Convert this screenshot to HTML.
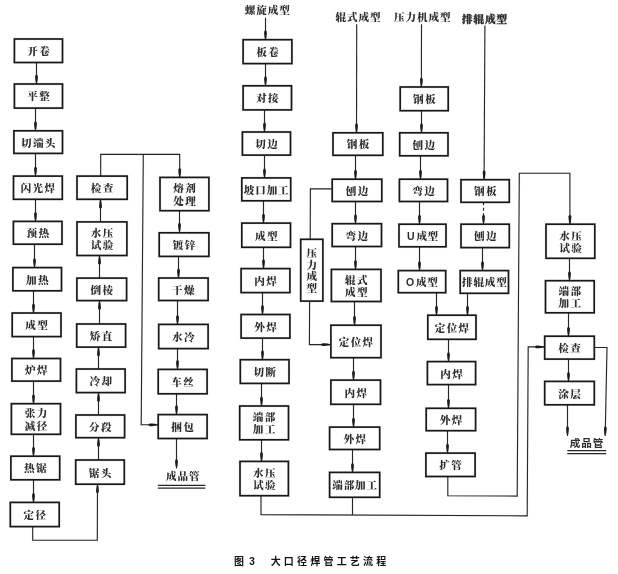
<!DOCTYPE html>
<html lang="zh-CN">
<head>
<meta charset="utf-8">
<title>图3 大口径焊管工艺流程</title>
<style>
html,body{margin:0;padding:0;background:#fff;}
body{width:618px;height:574px;overflow:hidden;font-family:"Liberation Serif","Noto Serif CJK SC",serif;}
svg{display:block;will-change:transform;filter:blur(0.3px);}
.b{fill:none;stroke:#181818;stroke-width:1.65;}
.bf{fill:#fff;stroke:none;}
.l{fill:none;stroke:#262626;stroke-width:1.1;}
.a{fill:#1c1c1c;stroke:none;}
.bh{fill:none;stroke:rgba(0,0,0,0.1);stroke-width:2.7;}
.lh{fill:none;stroke:rgba(0,0,0,0.06);stroke-width:2;}
.t{font-family:"Liberation Serif","Noto Serif CJK SC",serif;font-size:10.6px;font-weight:900;fill:#2e2e2e;letter-spacing:0.3px;text-anchor:middle;}
.u{font-family:"Liberation Sans","Noto Sans CJK SC",sans-serif;}
.c{font-family:"Liberation Sans","Noto Sans CJK SC",sans-serif;font-size:10px;font-weight:700;fill:#111;letter-spacing:3.2px;}
</style>
</head>
<body>
<svg width="618" height="574" viewBox="0 0 618 574">
<rect x="0" y="0" width="618" height="574" fill="#fff"/>
<g>

<g id="lines">
<path class="lh" d="M36.5 62.4 L36.5 84.0"/>
<path class="l" d="M36.5 62.4 L36.5 84.0"/>
<polygon class="a" points="36.10,83.70 35.50,81.00 35.15,78.00 35.15,76.00 35.90,74.80 37.10,74.80 37.85,76.00 37.85,78.00 37.50,81.00 36.90,83.70"/>
<path class="lh" d="M35.5 108.0 L35.5 130.8"/>
<path class="l" d="M35.5 108.0 L35.5 130.8"/>
<polygon class="a" points="35.10,130.50 34.50,127.80 34.15,124.80 34.15,122.80 34.90,121.60 36.10,121.60 36.85,122.80 36.85,124.80 36.50,127.80 35.90,130.50"/>
<path class="lh" d="M35.5 153.3 L35.5 176.1"/>
<path class="l" d="M35.5 153.3 L35.5 176.1"/>
<polygon class="a" points="35.10,175.80 34.50,173.10 34.15,170.10 34.15,168.10 34.90,166.90 36.10,166.90 36.85,168.10 36.85,170.10 36.50,173.10 35.90,175.80"/>
<path class="lh" d="M35.5 199.2 L35.5 221.4"/>
<path class="l" d="M35.5 199.2 L35.5 221.4"/>
<polygon class="a" points="35.10,221.10 34.50,218.40 34.15,215.40 34.15,213.40 34.90,212.20 36.10,212.20 36.85,213.40 36.85,215.40 36.50,218.40 35.90,221.10"/>
<path class="lh" d="M34.5 244.1 L34.5 267.6"/>
<path class="l" d="M34.5 244.1 L34.5 267.6"/>
<polygon class="a" points="34.10,267.30 33.50,264.60 33.15,261.60 33.15,259.60 33.90,258.40 35.10,258.40 35.85,259.60 35.85,261.60 35.50,264.60 34.90,267.30"/>
<path class="lh" d="M33.5 290.7 L33.5 313.0"/>
<path class="l" d="M33.5 290.7 L33.5 313.0"/>
<polygon class="a" points="33.10,312.70 32.50,310.00 32.15,307.00 32.15,305.00 32.90,303.80 34.10,303.80 34.85,305.00 34.85,307.00 34.50,310.00 33.90,312.70"/>
<path class="lh" d="M33.5 336.5 L33.5 358.5"/>
<path class="l" d="M33.5 336.5 L33.5 358.5"/>
<polygon class="a" points="33.10,358.20 32.50,355.50 32.15,352.50 32.15,350.50 32.90,349.30 34.10,349.30 34.85,350.50 34.85,352.50 34.50,355.50 33.90,358.20"/>
<path class="lh" d="M33.5 381.0 L33.5 403.7"/>
<path class="l" d="M33.5 381.0 L33.5 403.7"/>
<polygon class="a" points="33.10,403.40 32.50,400.70 32.15,397.70 32.15,395.70 32.90,394.50 34.10,394.50 34.85,395.70 34.85,397.70 34.50,400.70 33.90,403.40"/>
<path class="lh" d="M33.5 434.2 L33.5 456.2"/>
<path class="l" d="M33.5 434.2 L33.5 456.2"/>
<polygon class="a" points="33.10,455.90 32.50,453.20 32.15,450.20 32.15,448.20 32.90,447.00 34.10,447.00 34.85,448.20 34.85,450.20 34.50,453.20 33.90,455.90"/>
<path class="lh" d="M33.5 479.7 L33.5 502.4"/>
<path class="l" d="M33.5 479.7 L33.5 502.4"/>
<polygon class="a" points="33.10,502.10 32.50,499.40 32.15,496.40 32.15,494.40 32.90,493.20 34.10,493.20 34.85,494.40 34.85,496.40 34.50,499.40 33.90,502.10"/>
<path class="lh" d="M32.7 526.5 L32.7 540.3 L97.3 540.3 L97.5 484.1"/>
<path class="l" d="M32.7 526.5 L32.7 540.3 L97.3 540.3 L97.5 484.1"/>
<polygon class="a" points="97.90,484.40 98.49,487.10 98.83,490.10 98.82,492.10 98.07,493.30 96.87,493.30 96.12,492.10 96.13,490.10 96.49,487.10 97.10,484.40"/>
<path class="lh" d="M98.5 460.0 L98.5 437.6"/>
<path class="l" d="M98.5 460.0 L98.5 437.6"/>
<polygon class="a" points="98.90,437.90 99.50,440.60 99.85,443.60 99.85,445.60 99.10,446.80 97.90,446.80 97.15,445.60 97.15,443.60 97.50,440.60 98.10,437.90"/>
<path class="lh" d="M98.5 415.0 L98.5 392.5"/>
<path class="l" d="M98.5 415.0 L98.5 392.5"/>
<polygon class="a" points="98.90,392.80 99.50,395.50 99.85,398.50 99.85,400.50 99.10,401.70 97.90,401.70 97.15,400.50 97.15,398.50 97.50,395.50 98.10,392.80"/>
<path class="lh" d="M98.5 369.0 L98.5 347.0"/>
<path class="l" d="M98.5 369.0 L98.5 347.0"/>
<polygon class="a" points="98.90,347.30 99.50,350.00 99.85,353.00 99.85,355.00 99.10,356.20 97.90,356.20 97.15,355.00 97.15,353.00 97.50,350.00 98.10,347.30"/>
<path class="lh" d="M99.5 324.0 L99.5 300.5"/>
<path class="l" d="M99.5 324.0 L99.5 300.5"/>
<polygon class="a" points="99.90,300.80 100.50,303.50 100.85,306.50 100.85,308.50 100.10,309.70 98.90,309.70 98.15,308.50 98.15,306.50 98.50,303.50 99.10,300.80"/>
<path class="lh" d="M99.5 278.1 L99.5 255.4"/>
<path class="l" d="M99.5 278.1 L99.5 255.4"/>
<polygon class="a" points="99.90,255.70 100.50,258.40 100.85,261.40 100.85,263.40 100.10,264.60 98.90,264.60 98.15,263.40 98.15,261.40 98.50,258.40 99.10,255.70"/>
<path class="lh" d="M100.5 221.9 L100.5 199.2"/>
<path class="l" d="M100.5 221.9 L100.5 199.2"/>
<polygon class="a" points="100.90,199.50 101.50,202.20 101.85,205.20 101.85,207.20 101.10,208.40 99.90,208.40 99.15,207.20 99.15,205.20 99.50,202.20 100.10,199.50"/>
<path class="lh" d="M100.7 176.1 L100.7 154.4 L179.7 154.4 L179.7 177.4"/>
<path class="l" d="M100.7 176.1 L100.7 154.4 L179.7 154.4 L179.7 177.4"/>
<polygon class="a" points="179.30,177.10 178.70,174.40 178.35,171.40 178.35,169.40 179.10,168.20 180.30,168.20 181.05,169.40 181.05,171.40 180.70,174.40 180.10,177.10"/>
<path class="lh" d="M143.3 154.4 L141.2 424.8 L157.8 424.8"/>
<path class="l" d="M143.3 154.4 L141.2 424.8 L157.8 424.8"/>
<polygon class="a" points="157.50,425.20 154.80,425.80 151.80,426.15 149.80,426.15 148.60,425.40 148.60,424.20 149.80,423.45 151.80,423.45 154.80,423.80 157.50,424.40"/>
<path class="lh" d="M179.5 210.6 L179.5 232.3"/>
<path class="l" d="M179.5 210.6 L179.5 232.3"/>
<polygon class="a" points="179.10,232.00 178.50,229.30 178.15,226.30 178.15,224.30 178.90,223.10 180.10,223.10 180.85,224.30 180.85,226.30 180.50,229.30 179.90,232.00"/>
<path class="lh" d="M178.5 256.3 L178.5 278.0"/>
<path class="l" d="M178.5 256.3 L178.5 278.0"/>
<polygon class="a" points="178.10,277.70 177.50,275.00 177.15,272.00 177.15,270.00 177.90,268.80 179.10,268.80 179.85,270.00 179.85,272.00 179.50,275.00 178.90,277.70"/>
<path class="lh" d="M177.5 300.4 L177.5 324.4"/>
<path class="l" d="M177.5 300.4 L177.5 324.4"/>
<polygon class="a" points="177.10,324.10 176.50,321.40 176.15,318.40 176.15,316.40 176.90,315.20 178.10,315.20 178.85,316.40 178.85,318.40 178.50,321.40 177.90,324.10"/>
<path class="lh" d="M177.5 348.5 L177.5 369.4"/>
<path class="l" d="M177.5 348.5 L177.5 369.4"/>
<polygon class="a" points="177.10,369.10 176.50,366.40 176.15,363.40 176.15,361.40 176.90,360.20 178.10,360.20 178.85,361.40 178.85,363.40 178.50,366.40 177.90,369.10"/>
<path class="lh" d="M176.5 393.7 L176.5 414.6"/>
<path class="l" d="M176.5 393.7 L176.5 414.6"/>
<polygon class="a" points="176.10,414.30 175.50,411.60 175.15,408.60 175.15,406.60 175.90,405.40 177.10,405.40 177.85,406.60 177.85,408.60 177.50,411.60 176.90,414.30"/>
<path class="lh" d="M176.5 438.4 L176.5 468.4"/>
<path class="l" d="M176.5 438.4 L176.5 468.4"/>
<polygon class="a" points="176.10,468.10 175.50,465.40 175.15,462.40 175.15,460.40 175.90,459.20 177.10,459.20 177.85,460.40 177.85,462.40 177.50,465.40 176.90,468.10"/>
<path class="lh" d="M265.5 17.8 L265.5 39.7"/>
<path class="l" d="M265.5 17.8 L265.5 39.7"/>
<polygon class="a" points="265.10,39.40 264.50,36.70 264.15,33.70 264.15,31.70 264.90,30.50 266.10,30.50 266.85,31.70 266.85,33.70 266.50,36.70 265.90,39.40"/>
<path class="lh" d="M265.5 63.5 L265.5 85.8"/>
<path class="l" d="M265.5 63.5 L265.5 85.8"/>
<polygon class="a" points="265.10,85.50 264.50,82.80 264.15,79.80 264.15,77.80 264.90,76.60 266.10,76.60 266.85,77.80 266.85,79.80 266.50,82.80 265.90,85.50"/>
<path class="lh" d="M264.5 109.8 L264.5 132.0"/>
<path class="l" d="M264.5 109.8 L264.5 132.0"/>
<polygon class="a" points="264.10,131.70 263.50,129.00 263.15,126.00 263.15,124.00 263.90,122.80 265.10,122.80 265.85,124.00 265.85,126.00 265.50,129.00 264.90,131.70"/>
<path class="lh" d="M264.5 155.0 L264.5 177.9"/>
<path class="l" d="M264.5 155.0 L264.5 177.9"/>
<polygon class="a" points="264.10,177.60 263.50,174.90 263.15,171.90 263.15,169.90 263.90,168.70 265.10,168.70 265.85,169.90 265.85,171.90 265.50,174.90 264.90,177.60"/>
<path class="lh" d="M263.5 200.7 L263.5 223.1"/>
<path class="l" d="M263.5 200.7 L263.5 223.1"/>
<polygon class="a" points="263.10,222.80 262.50,220.10 262.15,217.10 262.15,215.10 262.90,213.90 264.10,213.90 264.85,215.10 264.85,217.10 264.50,220.10 263.90,222.80"/>
<path class="lh" d="M263.5 247.2 L263.5 268.6"/>
<path class="l" d="M263.5 247.2 L263.5 268.6"/>
<polygon class="a" points="263.10,268.30 262.50,265.60 262.15,262.60 262.15,260.60 262.90,259.40 264.10,259.40 264.85,260.60 264.85,262.60 264.50,265.60 263.90,268.30"/>
<path class="lh" d="M262.5 292.5 L262.5 314.5"/>
<path class="l" d="M262.5 292.5 L262.5 314.5"/>
<polygon class="a" points="262.10,314.20 261.50,311.50 261.15,308.50 261.15,306.50 261.90,305.30 263.10,305.30 263.85,306.50 263.85,308.50 263.50,311.50 262.90,314.20"/>
<path class="lh" d="M262.5 338.0 L262.5 359.7"/>
<path class="l" d="M262.5 338.0 L262.5 359.7"/>
<polygon class="a" points="262.10,359.40 261.50,356.70 261.15,353.70 261.15,351.70 261.90,350.50 263.10,350.50 263.85,351.70 263.85,353.70 263.50,356.70 262.90,359.40"/>
<path class="lh" d="M261.5 383.3 L261.5 406.0"/>
<path class="l" d="M261.5 383.3 L261.5 406.0"/>
<polygon class="a" points="261.10,405.70 260.50,403.00 260.15,400.00 260.15,398.00 260.90,396.80 262.10,396.80 262.85,398.00 262.85,400.00 262.50,403.00 261.90,405.70"/>
<path class="lh" d="M261.5 439.7 L261.5 461.4"/>
<path class="l" d="M261.5 439.7 L261.5 461.4"/>
<polygon class="a" points="261.10,461.10 260.50,458.40 260.15,455.40 260.15,453.40 260.90,452.20 262.10,452.20 262.85,453.40 262.85,455.40 262.50,458.40 261.90,461.10"/>
<path class="lh" d="M261.0 495.4 L261.0 514.6 L527.2 515.9 L528.2 346.9 L544.3 346.9"/>
<path class="l" d="M261.0 495.4 L261.0 514.6 L527.2 515.9 L528.2 346.9 L544.3 346.9"/>
<polygon class="a" points="544.00,347.30 541.30,347.90 538.30,348.25 536.30,348.25 535.10,347.50 535.10,346.30 536.30,345.55 538.30,345.55 541.30,345.90 544.00,346.50"/>
<path class="lh" d="M356.7 24.3 L356.5 132.8"/>
<path class="l" d="M356.7 24.3 L356.5 132.8"/>
<polygon class="a" points="356.10,132.50 355.51,129.80 355.16,126.80 355.16,124.80 355.92,123.60 357.12,123.60 357.86,124.80 357.86,126.80 357.51,129.80 356.90,132.50"/>
<path class="lh" d="M355.5 155.2 L355.5 179.2"/>
<path class="l" d="M355.5 155.2 L355.5 179.2"/>
<polygon class="a" points="355.10,178.90 354.50,176.20 354.15,173.20 354.15,171.20 354.90,170.00 356.10,170.00 356.85,171.20 356.85,173.20 356.50,176.20 355.90,178.90"/>
<path class="lh" d="M355.5 201.4 L355.5 223.7"/>
<path class="l" d="M355.5 201.4 L355.5 223.7"/>
<polygon class="a" points="355.10,223.40 354.50,220.70 354.15,217.70 354.15,215.70 354.90,214.50 356.10,214.50 356.85,215.70 356.85,217.70 356.50,220.70 355.90,223.40"/>
<path class="lh" d="M355.5 246.4 L355.5 269.4"/>
<path class="l" d="M355.5 246.4 L355.5 269.4"/>
<polygon class="a" points="355.10,269.10 354.50,266.40 354.15,263.40 354.15,261.40 354.90,260.20 356.10,260.20 356.85,261.40 356.85,263.40 356.50,266.40 355.90,269.10"/>
<path class="lh" d="M354.5 301.4 L354.5 325.2"/>
<path class="l" d="M354.5 301.4 L354.5 325.2"/>
<polygon class="a" points="354.10,324.90 353.50,322.20 353.15,319.20 353.15,317.20 353.90,316.00 355.10,316.00 355.85,317.20 355.85,319.20 355.50,322.20 354.90,324.90"/>
<path class="lh" d="M353.5 357.6 L353.5 380.1"/>
<path class="l" d="M353.5 357.6 L353.5 380.1"/>
<polygon class="a" points="353.10,379.80 352.50,377.10 352.15,374.10 352.15,372.10 352.90,370.90 354.10,370.90 354.85,372.10 354.85,374.10 354.50,377.10 353.90,379.80"/>
<path class="lh" d="M353.5 404.2 L353.5 427.1"/>
<path class="l" d="M353.5 404.2 L353.5 427.1"/>
<polygon class="a" points="353.10,426.80 352.50,424.10 352.15,421.10 352.15,419.10 352.90,417.90 354.10,417.90 354.85,419.10 354.85,421.10 354.50,424.10 353.90,426.80"/>
<path class="lh" d="M352.5 449.4 L352.5 472.4"/>
<path class="l" d="M352.5 449.4 L352.5 472.4"/>
<polygon class="a" points="352.10,472.10 351.50,469.40 351.15,466.40 351.15,464.40 351.90,463.20 353.10,463.20 353.85,464.40 353.85,466.40 353.50,469.40 352.90,472.10"/>
<path class="lh" d="M352.5 497.2 L352.5 515.0"/>
<path class="l" d="M352.5 497.2 L352.5 515.0"/>
<path class="lh" d="M331.8 188.9 L310.4 188.9 L310.2 239.3"/>
<path class="l" d="M331.8 188.9 L310.4 188.9 L310.2 239.3"/>
<path class="lh" d="M309.6 301.0 L309.4 344.6 L330.5 344.6"/>
<path class="l" d="M309.6 301.0 L309.4 344.6 L330.5 344.6"/>
<polygon class="a" points="330.20,345.00 327.50,345.60 324.50,345.95 322.50,345.95 321.30,345.20 321.30,344.00 322.50,343.25 324.50,343.25 327.50,343.60 330.20,344.20"/>
<path class="lh" d="M421.5 24.3 L421.4 87.0"/>
<path class="l" d="M421.5 24.3 L421.4 87.0"/>
<polygon class="a" points="421.00,86.70 420.40,84.00 420.06,81.00 420.06,79.00 420.81,77.80 422.01,77.80 422.76,79.00 422.76,81.00 422.40,84.00 421.80,86.70"/>
<path class="lh" d="M421.5 110.6 L421.5 132.8"/>
<path class="l" d="M421.5 110.6 L421.5 132.8"/>
<polygon class="a" points="421.10,132.50 420.50,129.80 420.15,126.80 420.15,124.80 420.90,123.60 422.10,123.60 422.85,124.80 422.85,126.80 422.50,129.80 421.90,132.50"/>
<path class="lh" d="M420.5 155.7 L420.5 179.2"/>
<path class="l" d="M420.5 155.7 L420.5 179.2"/>
<polygon class="a" points="420.10,178.90 419.50,176.20 419.15,173.20 419.15,171.20 419.90,170.00 421.10,170.00 421.85,171.20 421.85,173.20 421.50,176.20 420.90,178.90"/>
<path class="lh" d="M419.5 201.4 L419.5 224.2"/>
<path class="l" d="M419.5 201.4 L419.5 224.2"/>
<polygon class="a" points="419.10,223.90 418.50,221.20 418.15,218.20 418.15,216.20 418.90,215.00 420.10,215.00 420.85,216.20 420.85,218.20 420.50,221.20 419.90,223.90"/>
<path class="lh" d="M419.5 246.7 L419.5 270.6"/>
<path class="l" d="M419.5 246.7 L419.5 270.6"/>
<polygon class="a" points="419.10,270.30 418.50,267.60 418.15,264.60 418.15,262.60 418.90,261.40 420.10,261.40 420.85,262.60 420.85,264.60 420.50,267.60 419.90,270.30"/>
<path class="lh" d="M436.5 292.6 L436.5 315.2"/>
<path class="l" d="M436.5 292.6 L436.5 315.2"/>
<polygon class="a" points="436.10,314.90 435.50,312.20 435.15,309.20 435.15,307.20 435.90,306.00 437.10,306.00 437.85,307.20 437.85,309.20 437.50,312.20 436.90,314.90"/>
<path class="lh" d="M467.5 293.2 L467.5 315.2"/>
<path class="l" d="M467.5 293.2 L467.5 315.2"/>
<polygon class="a" points="467.10,314.90 466.50,312.20 466.15,309.20 466.15,307.20 466.90,306.00 468.10,306.00 468.85,307.20 468.85,309.20 468.50,312.20 467.90,314.90"/>
<path class="lh" d="M448.5 339.2 L448.5 361.6"/>
<path class="l" d="M448.5 339.2 L448.5 361.6"/>
<polygon class="a" points="448.10,361.30 447.50,358.60 447.15,355.60 447.15,353.60 447.90,352.40 449.10,352.40 449.85,353.60 449.85,355.60 449.50,358.60 448.90,361.30"/>
<path class="lh" d="M448.5 384.5 L448.5 408.3"/>
<path class="l" d="M448.5 384.5 L448.5 408.3"/>
<polygon class="a" points="448.10,408.00 447.50,405.30 447.15,402.30 447.15,400.30 447.90,399.10 449.10,399.10 449.85,400.30 449.85,402.30 449.50,405.30 448.90,408.00"/>
<path class="lh" d="M447.5 430.6 L447.5 453.1"/>
<path class="l" d="M447.5 430.6 L447.5 453.1"/>
<polygon class="a" points="447.10,452.80 446.50,450.10 446.15,447.10 446.15,445.10 446.90,443.90 448.10,443.90 448.85,445.10 448.85,447.10 448.50,450.10 447.90,452.80"/>
<path class="lh" d="M447.8 476.4 L447.8 495.8 L517.2 496.1 L519.3 173.2 L569.9 173.2 L569.9 224.2"/>
<path class="l" d="M447.8 476.4 L447.8 495.8 L517.2 496.1 L519.3 173.2 L569.9 173.2 L569.9 224.2"/>
<polygon class="a" points="569.50,223.90 568.90,221.20 568.55,218.20 568.55,216.20 569.30,215.00 570.50,215.00 571.25,216.20 571.25,218.20 570.90,221.20 570.30,223.90"/>
<path class="lh" d="M484.9 25.5 L484.1 179.7"/>
<path class="l" d="M484.9 25.5 L484.1 179.7"/>
<polygon class="a" points="483.70,179.40 483.12,176.69 482.78,173.69 482.79,171.69 483.55,170.50 484.75,170.50 485.49,171.71 485.48,173.71 485.12,176.71 484.50,179.40"/>
<path class="lh" d="M483.5 202.2 L483.5 224.2" stroke-dasharray="3 2.5"/>
<path class="l" d="M483.5 202.2 L483.5 224.2" stroke-dasharray="3 2.5"/>
<polygon class="a" points="483.10,223.90 482.50,221.20 482.15,218.20 482.15,216.20 482.90,215.00 484.10,215.00 484.85,216.20 484.85,218.20 484.50,221.20 483.90,223.90"/>
<path class="lh" d="M482.5 247.5 L482.5 270.6"/>
<path class="l" d="M482.5 247.5 L482.5 270.6"/>
<polygon class="a" points="482.10,270.30 481.50,267.60 481.15,264.60 481.15,262.60 481.90,261.40 483.10,261.40 483.85,262.60 483.85,264.60 483.50,267.60 482.90,270.30"/>
<path class="lh" d="M569.5 258.2 L569.5 280.7"/>
<path class="l" d="M569.5 258.2 L569.5 280.7"/>
<polygon class="a" points="569.10,280.40 568.50,277.70 568.15,274.70 568.15,272.70 568.90,271.50 570.10,271.50 570.85,272.70 570.85,274.70 570.50,277.70 569.90,280.40"/>
<path class="lh" d="M568.5 312.7 L568.5 336.2"/>
<path class="l" d="M568.5 312.7 L568.5 336.2"/>
<polygon class="a" points="568.10,335.90 567.50,333.20 567.15,330.20 567.15,328.20 567.90,327.00 569.10,327.00 569.85,328.20 569.85,330.20 569.50,333.20 568.90,335.90"/>
<path class="lh" d="M568.5 359.0 L568.5 381.4"/>
<path class="l" d="M568.5 359.0 L568.5 381.4"/>
<polygon class="a" points="568.10,381.10 567.50,378.40 567.15,375.40 567.15,373.40 567.90,372.20 569.10,372.20 569.85,373.40 569.85,375.40 569.50,378.40 568.90,381.10"/>
<path class="lh" d="M567.5 404.7 L567.5 435.8"/>
<path class="l" d="M567.5 404.7 L567.5 435.8"/>
<polygon class="a" points="567.10,435.50 566.50,432.80 566.15,429.80 566.15,427.80 566.90,426.60 568.10,426.60 568.85,427.80 568.85,429.80 568.50,432.80 567.90,435.50"/>
<path class="lh" d="M594.7 347.5 L607.0 347.5 L605.2 435.8"/>
<path class="l" d="M594.7 347.5 L607.0 347.5 L605.2 435.8"/>
<polygon class="a" points="604.81,435.49 604.26,432.78 603.97,429.77 604.01,427.77 604.79,426.59 605.99,426.61 606.71,427.83 606.67,429.83 606.26,432.82 605.61,435.51"/>
</g>
<g id="underlines">
<path class="l" style="stroke-width:1.3" d="M157.8 485.4 L205.4 485.4"/>
<path class="l" style="stroke-width:1.3" d="M157.8 488.2 L205.4 488.2"/>
<path class="l" style="stroke-width:1.3" d="M567.3 450.7 L606.2 450.7"/>
<path class="l" style="stroke-width:1.3" d="M567.3 453.6 L606.2 453.6"/>
</g>
<g id="boxes">
<rect class="bf" x="14.4" y="39.0" width="48.1" height="23.5"/>
<rect class="bh" x="14.4" y="39.0" width="48.1" height="23.5"/>
<rect class="b" x="14.4" y="39.0" width="48.1" height="23.5"/>
<text class="t" x="39.20" y="55.1" style="letter-spacing:1.4px">开卷</text>
<rect class="bf" x="14.4" y="84.0" width="48.1" height="24.1"/>
<rect class="bh" x="14.4" y="84.0" width="48.1" height="24.1"/>
<rect class="b" x="14.4" y="84.0" width="48.1" height="24.1"/>
<text class="t" x="39.20" y="100.4" style="letter-spacing:1.4px">平整</text>
<rect class="bf" x="13.9" y="130.8" width="48.6" height="22.6"/>
<rect class="bh" x="13.9" y="130.8" width="48.6" height="22.6"/>
<rect class="b" x="13.9" y="130.8" width="48.6" height="22.6"/>
<text class="t" x="38.90" y="146.5" style="letter-spacing:1.3px">切端头</text>
<rect class="bf" x="13.5" y="176.1" width="48.8" height="23.2"/>
<rect class="bh" x="13.5" y="176.1" width="48.8" height="23.2"/>
<rect class="b" x="13.5" y="176.1" width="48.8" height="23.2"/>
<text class="t" x="38.55" y="192.1" style="letter-spacing:1.3px">闪光焊</text>
<rect class="bf" x="13.4" y="221.4" width="48.6" height="22.8"/>
<rect class="bh" x="13.4" y="221.4" width="48.6" height="22.8"/>
<rect class="b" x="13.4" y="221.4" width="48.6" height="22.8"/>
<text class="t" x="38.45" y="237.2" style="letter-spacing:1.4px">预热</text>
<rect class="bf" x="12.9" y="267.6" width="48.6" height="23.2"/>
<rect class="bh" x="12.9" y="267.6" width="48.6" height="23.2"/>
<rect class="b" x="12.9" y="267.6" width="48.6" height="23.2"/>
<text class="t" x="37.95" y="283.6" style="letter-spacing:1.4px">加热</text>
<rect class="bf" x="12.2" y="313.0" width="48.8" height="23.6"/>
<rect class="bh" x="12.2" y="313.0" width="48.8" height="23.6"/>
<rect class="b" x="12.2" y="313.0" width="48.8" height="23.6"/>
<text class="t" x="37.30" y="329.2" style="letter-spacing:1.4px">成型</text>
<rect class="bf" x="11.9" y="358.5" width="48.6" height="22.6"/>
<rect class="bh" x="11.9" y="358.5" width="48.6" height="22.6"/>
<rect class="b" x="11.9" y="358.5" width="48.6" height="22.6"/>
<text class="t" x="36.95" y="374.2" style="letter-spacing:1.4px">炉焊</text>
<rect class="bf" x="11.4" y="403.7" width="49.1" height="30.6"/>
<rect class="bh" x="11.4" y="403.7" width="49.1" height="30.6"/>
<rect class="b" x="11.4" y="403.7" width="49.1" height="30.6"/>
<text class="t" x="36.70" y="417.2" style="letter-spacing:1.4px">张力</text>
<text class="t" x="36.70" y="429.5" style="letter-spacing:1.4px">减径</text>
<rect class="bf" x="10.9" y="456.2" width="48.8" height="23.6"/>
<rect class="bh" x="10.9" y="456.2" width="48.8" height="23.6"/>
<rect class="b" x="10.9" y="456.2" width="48.8" height="23.6"/>
<text class="t" x="36.00" y="472.4" style="letter-spacing:1.4px">热锯</text>
<rect class="bf" x="10.3" y="502.4" width="48.9" height="24.2"/>
<rect class="bh" x="10.3" y="502.4" width="48.9" height="24.2"/>
<rect class="b" x="10.3" y="502.4" width="48.9" height="24.2"/>
<text class="t" x="35.45" y="518.9" style="letter-spacing:1.4px">定径</text>
<rect class="bf" x="77.0" y="176.1" width="50.2" height="23.2"/>
<rect class="bh" x="77.0" y="176.1" width="50.2" height="23.2"/>
<rect class="b" x="77.0" y="176.1" width="50.2" height="23.2"/>
<text class="t" x="102.80" y="192.1" style="letter-spacing:1.4px">检查</text>
<rect class="bf" x="77.0" y="221.9" width="49.9" height="33.6"/>
<rect class="bh" x="77.0" y="221.9" width="49.9" height="33.6"/>
<rect class="b" x="77.0" y="221.9" width="49.9" height="33.6"/>
<text class="t" x="102.65" y="236.9" style="letter-spacing:1.4px">水压</text>
<text class="t" x="102.65" y="249.2" style="letter-spacing:1.4px">试验</text>
<rect class="bf" x="76.9" y="278.1" width="49.7" height="22.5"/>
<rect class="bh" x="76.9" y="278.1" width="49.7" height="22.5"/>
<rect class="b" x="76.9" y="278.1" width="49.7" height="22.5"/>
<text class="t" x="102.45" y="293.7" style="letter-spacing:1.4px">倒棱</text>
<rect class="bf" x="76.7" y="324.0" width="48.9" height="23.1"/>
<rect class="bh" x="76.7" y="324.0" width="48.9" height="23.1"/>
<rect class="b" x="76.7" y="324.0" width="48.9" height="23.1"/>
<text class="t" x="101.85" y="339.9" style="letter-spacing:1.4px">矫直</text>
<rect class="bf" x="76.4" y="369.0" width="48.7" height="23.6"/>
<rect class="bh" x="76.4" y="369.0" width="48.7" height="23.6"/>
<rect class="b" x="76.4" y="369.0" width="48.7" height="23.6"/>
<text class="t" x="101.45" y="385.2" style="letter-spacing:1.4px">冷却</text>
<rect class="bf" x="75.9" y="415.0" width="48.7" height="22.7"/>
<rect class="bh" x="75.9" y="415.0" width="48.7" height="22.7"/>
<rect class="b" x="75.9" y="415.0" width="48.7" height="22.7"/>
<text class="t" x="100.95" y="430.7" style="letter-spacing:1.4px">分段</text>
<rect class="bf" x="75.7" y="460.0" width="48.6" height="24.2"/>
<rect class="bh" x="75.7" y="460.0" width="48.6" height="24.2"/>
<rect class="b" x="75.7" y="460.0" width="48.6" height="24.2"/>
<text class="t" x="100.70" y="476.5" style="letter-spacing:1.4px">锯头</text>
<rect class="bf" x="160.0" y="177.4" width="48.9" height="33.3"/>
<rect class="bh" x="160.0" y="177.4" width="48.9" height="33.3"/>
<rect class="b" x="160.0" y="177.4" width="48.9" height="33.3"/>
<text class="t" x="185.15" y="192.3" style="letter-spacing:1.4px">熔剂</text>
<text class="t" x="185.15" y="204.6" style="letter-spacing:1.4px">处理</text>
<rect class="bf" x="159.2" y="232.8" width="49.7" height="23.6"/>
<rect class="bh" x="159.2" y="232.8" width="49.7" height="23.6"/>
<rect class="b" x="159.2" y="232.8" width="49.7" height="23.6"/>
<text class="t" x="184.75" y="249.0" style="letter-spacing:1.4px">镀锌</text>
<rect class="bf" x="158.7" y="278.0" width="49.4" height="22.5"/>
<rect class="bh" x="158.7" y="278.0" width="49.4" height="22.5"/>
<rect class="b" x="158.7" y="278.0" width="49.4" height="22.5"/>
<text class="t" x="184.10" y="293.6" style="letter-spacing:1.4px">干燥</text>
<rect class="bf" x="158.7" y="324.4" width="49.4" height="24.2"/>
<rect class="bh" x="158.7" y="324.4" width="49.4" height="24.2"/>
<rect class="b" x="158.7" y="324.4" width="49.4" height="24.2"/>
<text class="t" x="184.10" y="340.9" style="letter-spacing:1.4px">水冷</text>
<rect class="bf" x="158.2" y="369.4" width="48.9" height="24.4"/>
<rect class="bh" x="158.2" y="369.4" width="48.9" height="24.4"/>
<rect class="b" x="158.2" y="369.4" width="48.9" height="24.4"/>
<text class="t" x="183.35" y="386.0" style="letter-spacing:1.4px">车丝</text>
<rect class="bf" x="158.2" y="414.6" width="48.9" height="23.9"/>
<rect class="bh" x="158.2" y="414.6" width="48.9" height="23.9"/>
<rect class="b" x="158.2" y="414.6" width="48.9" height="23.9"/>
<text class="t" x="183.35" y="430.9" style="letter-spacing:1.4px">捆包</text>
<rect class="bf" x="243.1" y="39.7" width="48.8" height="23.9"/>
<rect class="bh" x="243.1" y="39.7" width="48.8" height="23.9"/>
<rect class="b" x="243.1" y="39.7" width="48.8" height="23.9"/>
<text class="t" x="268.25" y="56.0" style="letter-spacing:1.4px">板卷</text>
<rect class="bf" x="243.1" y="85.8" width="48.4" height="24.1"/>
<rect class="bh" x="243.1" y="85.8" width="48.4" height="24.1"/>
<rect class="b" x="243.1" y="85.8" width="48.4" height="24.1"/>
<text class="t" x="268.05" y="102.2" style="letter-spacing:1.4px">对接</text>
<rect class="bf" x="242.4" y="132.0" width="48.1" height="23.1"/>
<rect class="bh" x="242.4" y="132.0" width="48.1" height="23.1"/>
<rect class="b" x="242.4" y="132.0" width="48.1" height="23.1"/>
<text class="t" x="267.20" y="147.9" style="letter-spacing:1.4px">切边</text>
<rect class="bf" x="241.8" y="177.9" width="48.9" height="22.9"/>
<rect class="bh" x="241.8" y="177.9" width="48.9" height="22.9"/>
<rect class="b" x="241.8" y="177.9" width="48.9" height="22.9"/>
<text class="t" x="266.65" y="193.7" style="letter-spacing:0.8px">坡口加工</text>
<rect class="bf" x="241.8" y="223.1" width="48.7" height="24.2"/>
<rect class="bh" x="241.8" y="223.1" width="48.7" height="24.2"/>
<rect class="b" x="241.8" y="223.1" width="48.7" height="24.2"/>
<text class="t" x="266.90" y="239.6" style="letter-spacing:1.4px">成型</text>
<rect class="bf" x="241.1" y="268.6" width="48.8" height="24.0"/>
<rect class="bh" x="241.1" y="268.6" width="48.8" height="24.0"/>
<rect class="b" x="241.1" y="268.6" width="48.8" height="24.0"/>
<text class="t" x="266.20" y="285.0" style="letter-spacing:1.4px">内焊</text>
<rect class="bf" x="241.1" y="314.5" width="48.8" height="23.6"/>
<rect class="bh" x="241.1" y="314.5" width="48.8" height="23.6"/>
<rect class="b" x="241.1" y="314.5" width="48.8" height="23.6"/>
<text class="t" x="266.20" y="330.7" style="letter-spacing:1.4px">外焊</text>
<rect class="bf" x="240.3" y="359.7" width="48.7" height="23.7"/>
<rect class="bh" x="240.3" y="359.7" width="48.7" height="23.7"/>
<rect class="b" x="240.3" y="359.7" width="48.7" height="23.7"/>
<text class="t" x="265.40" y="375.9" style="letter-spacing:1.4px">切断</text>
<rect class="bf" x="239.7" y="406.0" width="48.8" height="33.8"/>
<rect class="bh" x="239.7" y="406.0" width="48.8" height="33.8"/>
<rect class="b" x="239.7" y="406.0" width="48.8" height="33.8"/>
<text class="t" x="264.85" y="421.1" style="letter-spacing:1.4px">端部</text>
<text class="t" x="264.85" y="433.4" style="letter-spacing:1.4px">加工</text>
<rect class="bf" x="240.0" y="461.4" width="48.4" height="34.3"/>
<rect class="bh" x="240.0" y="461.4" width="48.4" height="34.3"/>
<rect class="b" x="240.0" y="461.4" width="48.4" height="34.3"/>
<text class="t" x="264.90" y="476.8" style="letter-spacing:1.4px">水压</text>
<text class="t" x="264.90" y="489.1" style="letter-spacing:1.4px">试验</text>
<rect class="bf" x="300.7" y="239.3" width="22.2" height="61.8"/>
<rect class="bh" x="300.7" y="239.3" width="22.2" height="61.8"/>
<rect class="b" x="300.7" y="239.3" width="22.2" height="61.8"/>
<text class="t" x="311.85" y="257.2" style="letter-spacing:0.0px">压</text>
<text class="t" x="311.85" y="268.8" style="letter-spacing:0.0px">力</text>
<text class="t" x="311.85" y="280.4" style="letter-spacing:0.0px">成</text>
<text class="t" x="311.85" y="292.0" style="letter-spacing:0.0px">型</text>
<rect class="bf" x="333.0" y="132.8" width="49.8" height="22.5"/>
<rect class="bh" x="333.0" y="132.8" width="49.8" height="22.5"/>
<rect class="b" x="333.0" y="132.8" width="49.8" height="22.5"/>
<text class="t" x="358.65" y="148.4" style="letter-spacing:1.4px">钢板</text>
<rect class="bf" x="332.2" y="179.2" width="49.6" height="22.3"/>
<rect class="bh" x="332.2" y="179.2" width="49.6" height="22.3"/>
<rect class="b" x="332.2" y="179.2" width="49.6" height="22.3"/>
<text class="t" x="357.75" y="194.7" style="letter-spacing:1.4px">刨边</text>
<rect class="bf" x="332.2" y="223.7" width="49.3" height="22.8"/>
<rect class="bh" x="332.2" y="223.7" width="49.3" height="22.8"/>
<rect class="b" x="332.2" y="223.7" width="49.3" height="22.8"/>
<text class="t" x="357.60" y="239.5" style="letter-spacing:1.4px">弯边</text>
<rect class="bf" x="331.4" y="269.4" width="49.6" height="32.1"/>
<rect class="bh" x="331.4" y="269.4" width="49.6" height="32.1"/>
<rect class="b" x="331.4" y="269.4" width="49.6" height="32.1"/>
<text class="t" x="356.95" y="283.7" style="letter-spacing:1.4px">辊式</text>
<text class="t" x="356.95" y="296.0" style="letter-spacing:1.4px">成型</text>
<rect class="bf" x="330.9" y="325.2" width="50.1" height="32.5"/>
<rect class="bh" x="330.9" y="325.2" width="50.1" height="32.5"/>
<rect class="b" x="330.9" y="325.2" width="50.1" height="32.5"/>
<text class="t" x="356.65" y="345.8" style="letter-spacing:1.3px">定位焊</text>
<rect class="bf" x="330.9" y="380.1" width="49.6" height="24.2"/>
<rect class="bh" x="330.9" y="380.1" width="49.6" height="24.2"/>
<rect class="b" x="330.9" y="380.1" width="49.6" height="24.2"/>
<text class="t" x="356.45" y="396.6" style="letter-spacing:1.4px">内焊</text>
<rect class="bf" x="329.6" y="427.1" width="50.1" height="22.4"/>
<rect class="bh" x="329.6" y="427.1" width="50.1" height="22.4"/>
<rect class="b" x="329.6" y="427.1" width="50.1" height="22.4"/>
<text class="t" x="355.40" y="442.7" style="letter-spacing:1.4px">外焊</text>
<rect class="bf" x="329.6" y="472.4" width="50.1" height="24.9"/>
<rect class="bh" x="329.6" y="472.4" width="50.1" height="24.9"/>
<rect class="b" x="329.6" y="472.4" width="50.1" height="24.9"/>
<text class="t" x="355.10" y="489.2" style="letter-spacing:0.8px">端部加工</text>
<rect class="bf" x="400.2" y="87.0" width="48.0" height="23.7"/>
<rect class="bh" x="400.2" y="87.0" width="48.0" height="23.7"/>
<rect class="b" x="400.2" y="87.0" width="48.0" height="23.7"/>
<text class="t" x="424.95" y="103.2" style="letter-spacing:1.4px">钢板</text>
<rect class="bf" x="399.7" y="132.8" width="48.3" height="23.0"/>
<rect class="bh" x="399.7" y="132.8" width="48.3" height="23.0"/>
<rect class="b" x="399.7" y="132.8" width="48.3" height="23.0"/>
<text class="t" x="424.60" y="148.7" style="letter-spacing:1.4px">刨边</text>
<rect class="bf" x="399.4" y="179.2" width="48.1" height="22.3"/>
<rect class="bh" x="399.4" y="179.2" width="48.1" height="22.3"/>
<rect class="b" x="399.4" y="179.2" width="48.1" height="22.3"/>
<text class="t" x="424.20" y="194.7" style="letter-spacing:1.4px">弯边</text>
<rect class="bf" x="399.0" y="224.2" width="47.0" height="22.6"/>
<rect class="bh" x="399.0" y="224.2" width="47.0" height="22.6"/>
<rect class="b" x="399.0" y="224.2" width="47.0" height="22.6"/>
<text class="t" x="422.9" y="239.9" style="letter-spacing:0.6px"><tspan class="u" font-size="10.5" font-weight="700">U</tspan><tspan dx="1.2">成型</tspan></text>
<rect class="bf" x="398.3" y="270.6" width="47.4" height="22.1"/>
<rect class="bh" x="398.3" y="270.6" width="47.4" height="22.1"/>
<rect class="b" x="398.3" y="270.6" width="47.4" height="22.1"/>
<text class="t" x="422.3" y="286.0" style="letter-spacing:0.6px"><tspan class="u" font-size="10.5" font-weight="700">O</tspan><tspan dx="1.2">成型</tspan></text>
<rect class="bf" x="427.8" y="315.2" width="48.2" height="24.1"/>
<rect class="bh" x="427.8" y="315.2" width="48.2" height="24.1"/>
<rect class="b" x="427.8" y="315.2" width="48.2" height="24.1"/>
<text class="t" x="452.60" y="331.6" style="letter-spacing:1.3px">定位焊</text>
<rect class="bf" x="427.4" y="361.6" width="48.2" height="23.0"/>
<rect class="bh" x="427.4" y="361.6" width="48.2" height="23.0"/>
<rect class="b" x="427.4" y="361.6" width="48.2" height="23.0"/>
<text class="t" x="452.25" y="377.5" style="letter-spacing:1.4px">内焊</text>
<rect class="bf" x="426.2" y="408.3" width="49.4" height="22.4"/>
<rect class="bh" x="426.2" y="408.3" width="49.4" height="22.4"/>
<rect class="b" x="426.2" y="408.3" width="49.4" height="22.4"/>
<text class="t" x="451.65" y="423.9" style="letter-spacing:1.4px">外焊</text>
<rect class="bf" x="425.9" y="453.1" width="49.2" height="23.4"/>
<rect class="bh" x="425.9" y="453.1" width="49.2" height="23.4"/>
<rect class="b" x="425.9" y="453.1" width="49.2" height="23.4"/>
<text class="t" x="451.25" y="469.2" style="letter-spacing:1.4px">扩管</text>
<rect class="bf" x="461.0" y="179.7" width="48.3" height="22.6"/>
<rect class="bh" x="461.0" y="179.7" width="48.3" height="22.6"/>
<rect class="b" x="461.0" y="179.7" width="48.3" height="22.6"/>
<text class="t" x="485.90" y="195.4" style="letter-spacing:1.4px">钢板</text>
<rect class="bf" x="461.0" y="224.2" width="48.3" height="23.4"/>
<rect class="bh" x="461.0" y="224.2" width="48.3" height="23.4"/>
<rect class="b" x="461.0" y="224.2" width="48.3" height="23.4"/>
<text class="t" x="485.90" y="240.3" style="letter-spacing:1.4px">刨边</text>
<rect class="bf" x="460.2" y="270.6" width="48.3" height="22.7"/>
<rect class="bh" x="460.2" y="270.6" width="48.3" height="22.7"/>
<rect class="b" x="460.2" y="270.6" width="48.3" height="22.7"/>
<text class="t" x="484.80" y="286.3" style="letter-spacing:0.8px">排辊成型</text>
<rect class="bf" x="546.0" y="224.2" width="48.8" height="34.1"/>
<rect class="bh" x="546.0" y="224.2" width="48.8" height="34.1"/>
<rect class="b" x="546.0" y="224.2" width="48.8" height="34.1"/>
<text class="t" x="571.15" y="239.5" style="letter-spacing:1.4px">水压</text>
<text class="t" x="571.15" y="251.8" style="letter-spacing:1.4px">试验</text>
<rect class="bf" x="545.5" y="280.7" width="48.7" height="32.1"/>
<rect class="bh" x="545.5" y="280.7" width="48.7" height="32.1"/>
<rect class="b" x="545.5" y="280.7" width="48.7" height="32.1"/>
<text class="t" x="570.60" y="295.0" style="letter-spacing:1.4px">端部</text>
<text class="t" x="570.60" y="307.3" style="letter-spacing:1.4px">加工</text>
<rect class="bf" x="544.7" y="336.2" width="49.6" height="22.9"/>
<rect class="bh" x="544.7" y="336.2" width="49.6" height="22.9"/>
<rect class="b" x="544.7" y="336.2" width="49.6" height="22.9"/>
<text class="t" x="570.20" y="352.0" style="letter-spacing:1.4px">检查</text>
<rect class="bf" x="544.7" y="381.4" width="49.6" height="23.4"/>
<rect class="bh" x="544.7" y="381.4" width="49.6" height="23.4"/>
<rect class="b" x="544.7" y="381.4" width="49.6" height="23.4"/>
<text class="t" x="570.20" y="397.5" style="letter-spacing:1.4px">涂层</text>
</g>
<g id="labels">
<text class="t" style="font-size:10.6px;font-weight:900;letter-spacing:0.9px" x="267.8" y="13.9">螺旋成型</text>
<text class="t" style="font-size:10.6px;font-weight:900;letter-spacing:0.9px" x="358.4" y="21.1">辊式成型</text>
<text class="t" style="font-size:10.6px;font-weight:900;letter-spacing:0.9px" x="422.8" y="21.1">压力机成型</text>
<text class="t" style="stroke:#2e2e2e;stroke-width:0.3;font-size:10.6px;font-weight:900;letter-spacing:0.9px" x="485.1" y="22.6">排辊成型</text>
<text class="t" style="font-size:10.6px;font-weight:900;letter-spacing:0.9px" x="183.3" y="480.2">成品管</text>
<text class="t" style="font-family:&quot;Liberation Sans&quot;,&quot;Noto Sans CJK SC&quot;,sans-serif;font-size:10.6px;font-weight:700;letter-spacing:0.9px" x="587.0" y="446.5">成品管</text>
</g>
<text class="c" x="234.1" y="565.4">图<tspan dx="2">3</tspan><tspan dx="12.6">大口径焊管工艺流程</tspan></text>
</g>
</svg>
</body>
</html>
